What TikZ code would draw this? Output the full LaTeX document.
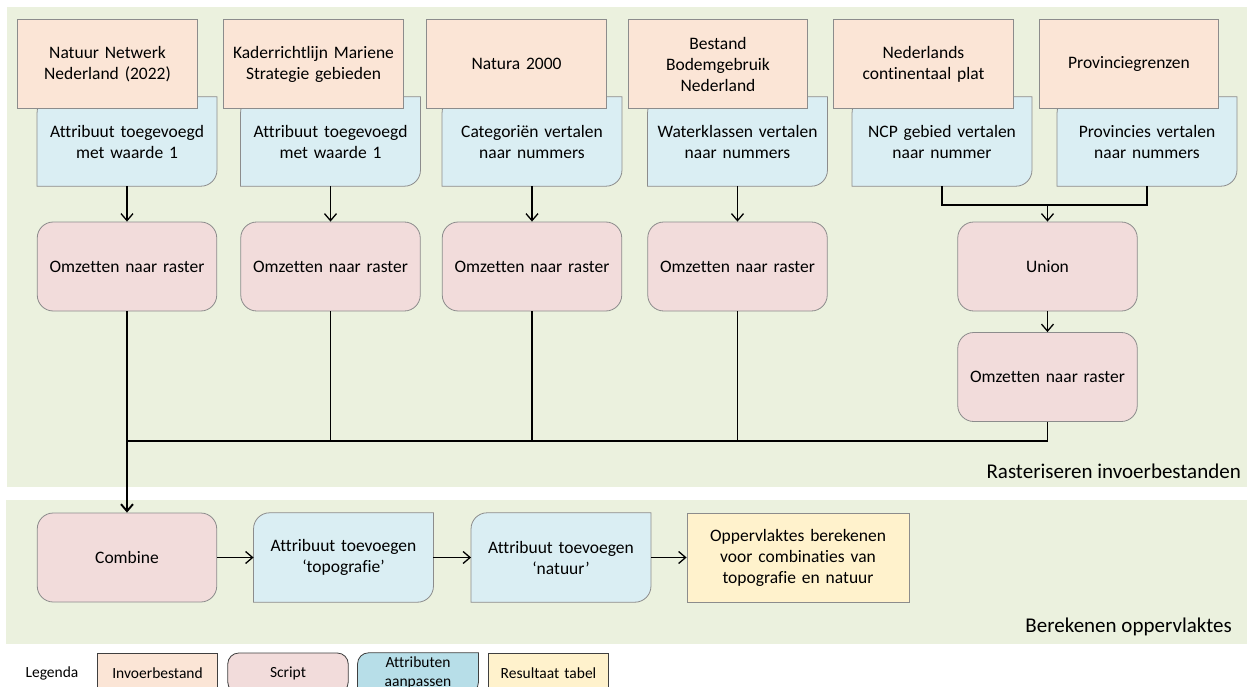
\documentclass[tikz,border=0pt]{standalone}
\usepackage{fontspec}
\setmainfont{Carlito}[Ligatures=NoCommon]
\usetikzlibrary{arrows.meta,calc}

\pgfdeclarelayer{bands}
\pgfdeclarelayer{cards}
\pgfsetlayers{bands,cards,main}

\definecolor{bandgreen}{HTML}{EBF1DE}
\definecolor{inputfill}{HTML}{FBE5D6}
\definecolor{scriptfill}{HTML}{F2DCDB}
\definecolor{attrfill}{HTML}{DAEEF3}
\definecolor{attrlegend}{HTML}{B7DEE8}
\definecolor{resultfill}{HTML}{FFF2CC}
\definecolor{boxline}{HTML}{8C8C8C}
\definecolor{legendline}{HTML}{3F3F3F}

\tikzset{
  box/.style={minimum width=179.5pt, minimum height=89pt, inner sep=0pt,
    align=center, text width=172pt, font=\fontsize{17.5}{21}\selectfont},
  inputbox/.style={box, draw=boxline, line width=0.8pt, fill=inputfill},
  scriptbox/.style={box, draw=boxline, line width=0.8pt, fill=scriptfill, rounded corners=16pt},
  attrbox/.style={box},
  resultbox/.style={box, draw=boxline, line width=0.8pt, fill=resultfill},
  cardline/.style={draw=boxline, line width=0.8pt, fill=attrfill},
  legendbox/.style={minimum width=120.5pt, minimum height=40pt, inner sep=0pt,
    align=center, text width=116pt, font=\fontsize{15.5}{19.5}\selectfont},
  lginput/.style={legendbox, draw=legendline, line width=0.8pt, fill=inputfill},
  lgscript/.style={legendbox, draw=legendline, line width=0.8pt, fill=scriptfill, rounded corners=11pt},
  lgresult/.style={legendbox, draw=legendline, line width=0.8pt, fill=resultfill},
  lgcardline/.style={draw=legendline, line width=0.8pt, fill=attrlegend},
  bandlabel/.style={anchor=east, inner sep=0pt, font=\fontsize{21}{25}\selectfont},
  link/.style={draw=black, line width=1.3pt},
  flow/.style={link, -{Straight Barb[length=7pt,width=12pt]}},
  mainflow/.style={flow, line width=1.9pt},
}

% outline of an "attribute" card: rounded top-left and bottom-right corners
\newcommand\cardoutline[3]{%
  \begin{pgfonlayer}{cards}
    \path[#3] ($(#1.north west)+(0,#2)$)
      .. controls ($(#1.north west)+(0,0.45*#2)$) and ($(#1.north west)+(0.45*#2,0)$) .. ($(#1.north west)+(#2,0)$)
      -- (#1.north east)
      -- ($(#1.south east)+(0,-#2)$)
      .. controls ($(#1.south east)+(0,-0.45*#2)$) and ($(#1.south east)+(-0.45*#2,0)$) .. ($(#1.south east)+(-#2,0)$)
      -- (#1.south west) -- cycle;
  \end{pgfonlayer}}

\begin{document}
\begin{tikzpicture}[x=1pt, y=-1pt]
  \useasboundingbox (0,0) rectangle (1247,687);

  % background bands
  \begin{pgfonlayer}{bands}
    \fill[white] (0,0) rectangle (1247,687);
    \fill[bandgreen] (7,7) rectangle (1247,487);
    \fill[bandgreen] (6,500) rectangle (1247,644);
  \end{pgfonlayer}
  \node[bandlabel] (rasterlabel) at (1241,471) {Rasteriseren invoerbestanden};
  \node[bandlabel] (arealabel) at (1232,627) {Berekenen oppervlaktes};

  % attribute steps (drawn below the input files)
  \node[attrbox] (at1) at (127,141.5) {Attribuut toegevoegd\\met waarde 1};
  \node[attrbox] (at2) at (330.5,141.5) {Attribuut toegevoegd\\met waarde 1};
  \node[attrbox] (at3) at (532,141.5) {Categoriën vertalen\\naar nummers};
  \node[attrbox] (at4) at (737.5,141.5) {Waterklassen vertalen\\naar nummers};
  \node[attrbox] (at5) at (942,141.5) {NCP gebied vertalen\\naar nummer};
  \node[attrbox] (at6) at (1147,141.5) {Provincies vertalen\\naar nummers};
  \foreach \n in {at1,at2,at3,at4,at5,at6} {\cardoutline{\n}{16}{cardline}}

  % input files
  \node[inputbox] (in1) at (107.5,64) {Natuur Netwerk\\Nederland (2022)};
  \node[inputbox] (in2) at (313.5,64) {Kaderrichtlijn Mariene\\Strategie gebieden};
  \node[inputbox] (in3) at (516.5,64) {Natura 2000};
  \node[inputbox] (in4) at (718,64) {Bestand\\Bodemgebruik\\Nederland};
  \node[inputbox] (in5) at (923.5,64) {Nederlands\\continentaal plat};
  \node[inputbox] (in6) at (1129,64) {Provinciegrenzen};

  % scripts
  \node[scriptbox] (sc1) at (127,266.5) {Omzetten naar raster};
  \node[scriptbox] (sc2) at (330.5,266.5) {Omzetten naar raster};
  \node[scriptbox] (sc3) at (532,266.5) {Omzetten naar raster};
  \node[scriptbox] (sc4) at (737.5,266.5) {Omzetten naar raster};
  \node[scriptbox] (union) at (1047.5,266.5) {Union};
  \node[scriptbox] (sc5) at (1047.5,377) {Omzetten naar raster};

  % area calculation
  \node[scriptbox] (combine) at (127,557.5) {Combine};
  \node[attrbox] (topo) at (343.5,557.5) {Attribuut toevoegen\\‘topografie’};
  \node[attrbox] (natuur) at (561,557.5) {Attribuut toevoegen\\‘natuur’};
  \cardoutline{topo}{16}{cardline}
  \cardoutline{natuur}{16}{cardline}
  \node[resultbox, minimum width=222pt, text width=210pt] (result) at (798,557.5)
    {Oppervlaktes berekenen\\voor combinaties van\\topografie en natuur};

  % connectors
  \foreach \i in {1,2,3,4} {\draw[flow] (at\i.south) -- (sc\i.north);}
  \coordinate (join) at (1047.5,205);
  \draw[link] (at5.south) |- (join);
  \draw[link] (at6.south) |- (join);
  \draw[flow] (join) -- (union.north);
  \draw[flow] (union.south) -- (sc5.north);

  \coordinate (bus) at (127,441);
  \draw[link] (sc5.south) |- (bus);
  \foreach \i in {2,3,4} {\draw[link] (sc\i.south) |- (bus);}
  \draw[link] (sc1.south) -- (bus);
  \draw[mainflow] (bus) -- (combine.north);

  \draw[flow] (combine.east) -- (topo.west);
  \draw[flow] (topo.east) -- (natuur.west);
  \draw[flow] (natuur.east) -- (result.west);

  % legend
  \node[font=\fontsize{15.5}{19.5}\selectfont] (legendtitle) at (52,673) {Legenda};
  \node[lginput] (lgin) at (157.5,673) {Invoerbestand};
  \node[lgscript] (lgsc) at (288,673) {Script};
  \node[legendbox] (lgat) at (418,673) {Attributen\\aanpassen};
  \cardoutline{lgat}{11}{lgcardline}
  \node[lgresult] (lgres) at (548.5,673) {Resultaat tabel};
\end{tikzpicture}
\end{document}
